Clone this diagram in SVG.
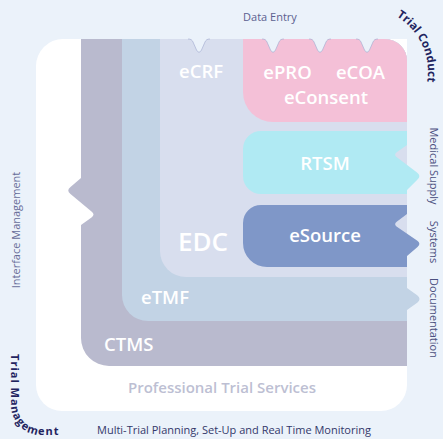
<svg xmlns="http://www.w3.org/2000/svg" xmlns:xlink="http://www.w3.org/1999/xlink" width="443" height="439" viewBox="0 0 443 439">
<style>
.lbl{font-family:"Open Sans","Noto Sans",sans-serif;font-size:11px;fill:#4B5080}
.bold{font-family:"Open Sans","Noto Sans",sans-serif;font-size:11.5px;font-weight:700;fill:#1F2460}
.w{font-family:"Open Sans","Noto Sans",sans-serif;font-size:18.5px;font-weight:600;fill:#FFFFFF}
.prof{font-family:"Open Sans","Noto Sans",sans-serif;font-size:15px;font-weight:600;fill:#BDBFD3}
</style>
<defs>
<g id="notch">
<path d="M-11,-0.6 C-8,-0.6 -7,1 -6,3 L-2.5,11 Q0,15.5 2.5,11 L6,3 C7,1 8,-0.6 11,-0.6 Z" fill="#EBF2FA"/>
<path d="M-11,0 C-8,0 -7,1 -6,3 L-2.5,11 Q0,15.5 2.5,11 L6,3 C7,1 8,0 11,0" fill="none" stroke="#A7B0D2" stroke-width="0.7"/>
</g>
<path id="arcConduct" d="M396.5,16.3 A65,65 0 0 1 427,83.3"/>
<path id="arcMgmt" d="M11,354 L11,405 A30,30 0 0 0 41,435 L100,435"/>
</defs>
<rect x="0" y="0" width="443" height="439" fill="#EBF2FA"/>
<g id="professional-trial-services">
<path d="M63,39 H407 V385 A26,26 0 0 1 381,411 H62 A26,26 0 0 1 36,385 V66 A27,27 0 0 1 63,39 Z" fill="#FFFFFF"/>
<text class="prof" x="222" y="393" text-anchor="middle">Professional Trial Services</text>
</g>
<g id="ctms">
<path d="M81,39 H385 A22,22 0 0 1 407,61 V366 H109 A28,28 0 0 1 81,338 V225 L91.5,217.5 Q95.5,214.5 91.5,211.5 L70.5,194 Q66,190.5 70.5,187 L81,178 Z" fill="#B9BACE"/>
<text class="w" x="104" y="351">CTMS</text>
</g>
<g id="etmf">
<path d="M122,39 H385 A22,22 0 0 1 407,61 V288 L417.5,295.5 Q421.5,299 417.5,302.5 L407,310 V321 H148 A26,26 0 0 1 122,295 Z" fill="#C2D3E5"/>
<text class="w" x="141" y="304">eTMF</text>
</g>
<g id="edc">
<path d="M160,39 H385 A22,22 0 0 1 407,61 V277 H186 A26,26 0 0 1 160,251 Z" fill="#D8DEEE"/>
<use xlink:href="#notch" x="199" y="39"/>
<text class="w" x="179" y="78">eCRF</text>
<text class="w" x="178" y="251" style="font-size:26px">EDC</text>
</g>
<g id="data-entry">
<path d="M243,39 H385 A22,22 0 0 1 407,61 V122 H273 A30,30 0 0 1 243,92 Z" fill="#F4C0D7"/>
<use xlink:href="#notch" x="273" y="39"/>
<use xlink:href="#notch" x="320" y="39"/>
<use xlink:href="#notch" x="367" y="39"/>
<text class="w" x="287.5" y="79" text-anchor="middle">ePRO</text>
<text class="w" x="360.5" y="79" text-anchor="middle">eCOA</text>
<text class="w" x="326" y="104" text-anchor="middle">eConsent</text>
</g>
<g id="rtsm">
<path d="M261,131 H407 V145 L397,152 Q393.5,154.5 396.5,157 L417,172.5 Q421.5,176 417.5,179.5 L407,190 V194 H261 A18,18 0 0 1 243,176 V149 A18,18 0 0 1 261,131 Z" fill="#B0EAF3"/>
<text class="w" x="325" y="170" text-anchor="middle">RTSM</text>
</g>
<g id="esource">
<path d="M261,205 H407 V214 L397,221.5 Q393.5,224 396.5,226.5 L417,240.5 Q421.5,243.5 417.5,247 L407,256 V267 H267 A24,24 0 0 1 243,243 V223 A18,18 0 0 1 261,205 Z" fill="#7F97C8"/>
<text class="w" x="325" y="242" text-anchor="middle">eSource</text>
</g>
<g id="connectors"></g>
<g id="labels">
<text class="lbl" x="270" y="21" text-anchor="middle" style="fill:#5C6190">Data Entry</text>
<text class="bold"><textPath xlink:href="#arcConduct">Trial Conduct</textPath></text>
<text class="lbl" transform="translate(430,166) rotate(90)" text-anchor="middle">Medical Supply</text>
<text class="lbl" transform="translate(430,242) rotate(90)" text-anchor="middle">Systems</text>
<text class="lbl" transform="translate(430,318) rotate(90)" text-anchor="middle">Documentation</text>
<text class="lbl" transform="translate(19.5,230) rotate(-90)" text-anchor="middle" style="fill:#676C98">Interface Management</text>
<text class="bold" style="font-size:11px;letter-spacing:1px"><textPath xlink:href="#arcMgmt">Trial Management</textPath></text>
<text class="lbl" x="234" y="434" text-anchor="middle" style="fill:#33386A">Multi-Trial Planning, Set-Up and Real Time Monitoring</text>
</g>
</svg>
